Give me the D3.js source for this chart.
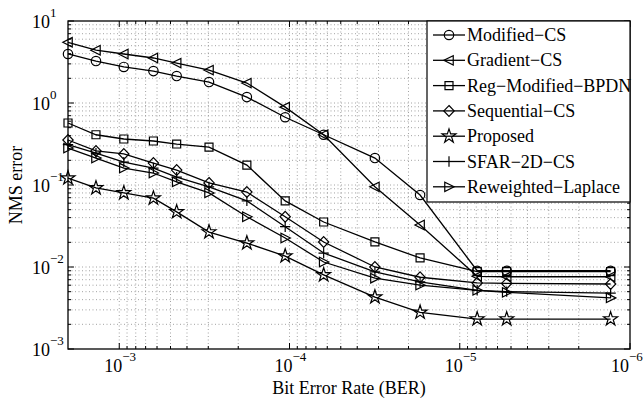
<!DOCTYPE html>
<html>
<head>
<meta charset="utf-8">
<script src="https://cdn.jsdelivr.net/npm/d3@7"></script>
<style>
  body { margin: 0; background: #fff; }
  text { font-family: "Liberation Serif", "Times New Roman", Times, serif; }
</style>
</head>
<body>
<script>
const ber = [2e-3, 1.37e-3, 9.4e-4, 6.3e-4, 4.6e-4, 2.97e-4, 1.78e-4, 1.06e-4, 6.3e-5, 3.15e-5, 1.71e-5, 7.9e-6, 5.3e-6, 1.3e-6];

const modifiedCS = [3.96, 3.25, 2.75, 2.45, 2.13, 1.80, 1.18, 0.67, 0.41, 0.213, 0.0755, 0.0090, 0.0090, 0.0090];
const gradientCS = [5.5, 4.4, 3.96, 3.54, 3.07, 2.52, 1.75, 0.89, 0.41, 0.095, 0.0325, 0.0077, 0.0076, 0.0076];
const regModifiedBPDN = [0.57, 0.41, 0.364, 0.344, 0.316, 0.29, 0.175, 0.064, 0.0354, 0.0202, 0.0129, 0.0088, 0.0088, 0.0088];
const sequentialCS = [0.354, 0.26, 0.239, 0.185, 0.152, 0.106, 0.082, 0.041, 0.0202, 0.0100, 0.0075, 0.0064, 0.0063, 0.0062];
const proposed = [0.1216, 0.092, 0.080, 0.069, 0.047, 0.0267, 0.0196, 0.0136, 0.0080, 0.0043, 0.0028, 0.00232, 0.00232, 0.00232];
const sfar2DCS = [0.31, 0.245, 0.19, 0.161, 0.125, 0.095, 0.064, 0.031, 0.0148, 0.0087, 0.0066, 0.0052, 0.0050, 0.0048];
const reweightedLaplace = [0.282, 0.213, 0.161, 0.14, 0.109, 0.080, 0.041, 0.0226, 0.0115, 0.0073, 0.0060, 0.0052, 0.0049, 0.0042];

const seriesNames = ["Modified\u2212CS", "Gradient\u2212CS", "Reg\u2212Modified\u2212BPDN", "Sequential\u2212CS", "Proposed", "SFAR\u22122D\u2212CS", "Reweighted\u2212Laplace"];
const seriesValues = [modifiedCS, gradientCS, regModifiedBPDN, sequentialCS, proposed, sfar2DCS, reweightedLaplace];
const seriesMarkers = ["circle", "triLeft", "square", "diamond", "star", "plus", "triRight"];

const xDecades = [1e-3, 1e-4, 1e-5, 1e-6];
const yDecades = [1e-3, 1e-2, 1e-1, 1, 10];

const width = 644, height = 399;
const mLeft = 68, mRight = 630, mTop = 21, mBottom = 349;
const serif = "Liberation Serif";

const x = d3.scaleLog().domain([2e-3, 1e-6]).range([mLeft, mRight]);
const y = d3.scaleLog().domain([1e-3, 10]).range([mBottom, mTop]);

const svg = d3.select("body").append("svg")
  .attr("width", width)
  .attr("height", height)
  .style("display", "block");

// minor values in each decade
function minorTicks(lo, hi) {
  const out = [];
  for (let e = Math.floor(Math.log10(lo)); e <= Math.ceil(Math.log10(hi)); e++) {
    for (let k = 2; k <= 9; k++) {
      const v = k * Math.pow(10, e);
      if (v > lo * 1.0001 && v < hi * 0.9999) out.push(v);
    }
  }
  return out;
}
const xMinor = minorTicks(1e-6, 2e-3);
const yMinor = minorTicks(1e-3, 10);

const grid = svg.append("g")
  .attr("stroke", "#8a8a8a")
  .attr("stroke-width", 0.8)
  .attr("stroke-dasharray", "1,2.5");

grid.selectAll(".gx")
  .data(xMinor.concat(xDecades).filter(v => x(v) > mLeft + 1 && x(v) < mRight - 1))
  .enter().append("line")
  .attr("x1", d => x(d)).attr("x2", d => x(d))
  .attr("y1", mTop).attr("y2", mBottom);

grid.selectAll(".gy")
  .data(yMinor.concat(yDecades).filter(v => y(v) > mTop + 1 && y(v) < mBottom - 1))
  .enter().append("line")
  .attr("x1", mLeft).attr("x2", mRight)
  .attr("y1", d => y(d)).attr("y2", d => y(d));

// ticks on all four sides, pointing inward
const ticks = svg.append("g").attr("stroke", "#000").attr("stroke-width", 1);
function xTick(v, len) {
  ticks.append("line").attr("x1", x(v)).attr("x2", x(v)).attr("y1", mBottom).attr("y2", mBottom - len);
  ticks.append("line").attr("x1", x(v)).attr("x2", x(v)).attr("y1", mTop).attr("y2", mTop + len);
}
function yTick(v, len) {
  ticks.append("line").attr("y1", y(v)).attr("y2", y(v)).attr("x1", mLeft).attr("x2", mLeft + len);
  ticks.append("line").attr("y1", y(v)).attr("y2", y(v)).attr("x1", mRight).attr("x2", mRight - len);
}
xMinor.forEach(v => xTick(v, 3));
xDecades.forEach(v => xTick(v, 6));
yMinor.forEach(v => yTick(v, 3));
yDecades.forEach(v => yTick(v, 6));

svg.append("rect")
  .attr("x", mLeft).attr("y", mTop)
  .attr("width", mRight - mLeft).attr("height", mBottom - mTop)
  .attr("fill", "none").attr("stroke", "#000").attr("stroke-width", 1.3);

// tick labels 10^n
function expLabel(g, v) {
  const e = Math.round(Math.log10(v));
  g.append("tspan").text("10");
  g.append("tspan").attr("dy", -11).attr("font-size", 13).text(e < 0 ? "\u2212" + (-e) : String(e));
}
xDecades.forEach((v, i) => {
  const t = svg.append("text")
    .attr("x", x(v) - 15 - (i === xDecades.length - 1 ? 4 : 0)).attr("y", 372)
    .attr("font-family", serif).attr("font-size", 18);
  expLabel(t, v);
});
yDecades.forEach(v => {
  const t = svg.append("text")
    .attr("x", 32).attr("y", y(v) + 7)
    .attr("font-family", serif).attr("font-size", 18);
  expLabel(t, v);
});

svg.append("text")
  .attr("x", (mLeft + mRight) / 2).attr("y", 394)
  .attr("text-anchor", "middle").attr("font-family", serif).attr("font-size", 18)
  .text("Bit Error Rate (BER)");

svg.append("text")
  .attr("transform", `translate(22,${(mTop + mBottom) / 2}) rotate(-90)`)
  .attr("text-anchor", "middle").attr("font-family", serif).attr("font-size", 18)
  .text("NMS error");

// markers
function markerPath(type) {
  const s = 4.7;
  switch (type) {
    case "circle": return d3.symbol(d3.symbolCircle, Math.PI * s * s)();
    case "square": return `M${-s*0.85},${-s*0.85}H${s*0.85}V${s*0.85}H${-s*0.85}Z`;
    case "diamond": return `M0,${-s*1.15}L${s*1.1},0L0,${s*1.15}L${-s*1.1},0Z`;
    case "triLeft": return `M${-s*1.1},0L${s*0.9},${-s}L${s*0.9},${s}Z`;
    case "triRight": return `M${s*1.1},0L${-s*0.9},${-s}L${-s*0.9},${s}Z`;
    case "plus": return `M${-s*1.1},0H${s*1.1}M0,${-s*1.1}V${s*1.1}`;
    case "star": return d3.symbol(d3.symbolStar, 60)();
  }
}

const line = d3.line().x(d => x(d[0])).y(d => y(d[1]));

seriesValues.forEach((vals, i) => {
  const pts = ber.map((b, j) => [b, vals[j]]);
  const g = svg.append("g");
  g.append("path")
    .attr("d", line(pts))
    .attr("fill", "none").attr("stroke", "#000").attr("stroke-width", 1.3);
  g.selectAll("path.m")
    .data(pts)
    .enter().append("path")
    .attr("class", "m")
    .attr("transform", d => `translate(${x(d[0])},${y(d[1])})`)
    .attr("d", markerPath(seriesMarkers[i]))
    .attr("fill", "none").attr("stroke", "#000").attr("stroke-width", 1.2);
});

// legend
const lg = svg.append("g");
lg.append("rect")
  .attr("x", 427).attr("y", mTop)
  .attr("width", mRight - 427).attr("height", 181)
  .attr("fill", "#fff").attr("stroke", "#000").attr("stroke-width", 1.2);

seriesNames.forEach((name, i) => {
  const ly = 35 + i * 25.3;
  lg.append("line")
    .attr("x1", 433).attr("x2", 465).attr("y1", ly).attr("y2", ly)
    .attr("stroke", "#000").attr("stroke-width", 1.3);
  lg.append("path")
    .attr("transform", `translate(449,${ly})`)
    .attr("d", markerPath(seriesMarkers[i]))
    .attr("fill", "none").attr("stroke", "#000").attr("stroke-width", 1.2);
  lg.append("text")
    .attr("x", 467).attr("y", ly + 6)
    .attr("font-family", serif).attr("font-size", 18)
    .text(name);
});
</script>
</body>
</html>
